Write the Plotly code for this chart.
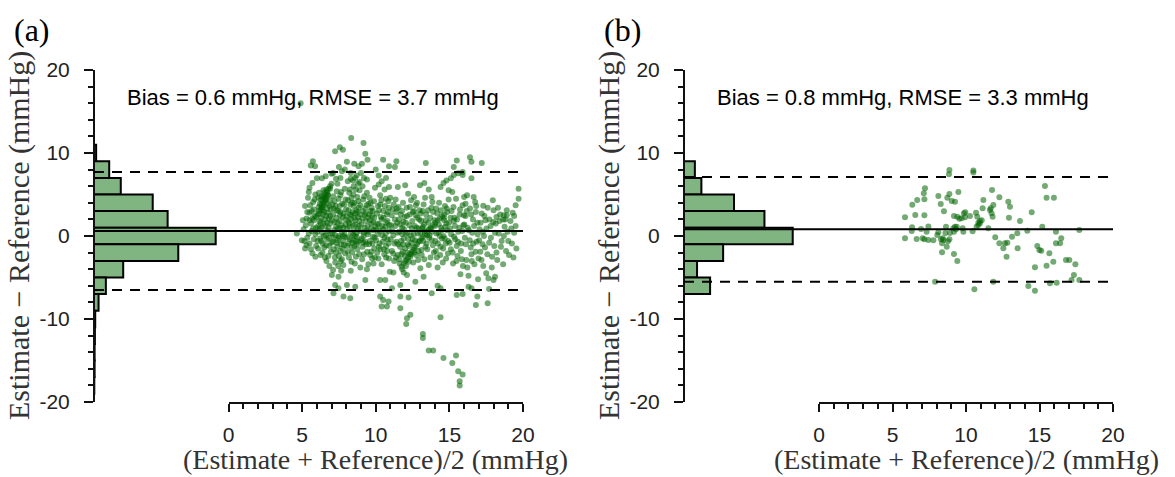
import plotly.graph_objects as go

# ---------------- data ----------------
hist_centers_a = [10, 8, 6, 4, 2, 0, -2, -4, -6, -8, -10, -12, -14, -16, -18]
hist_counts_a = [7, 50, 88, 193, 242, 400, 277, 96, 39, 15, 4, 3, 2, 2, 1]
hist_centers_b = [8, 6, 4, 2, 0, -2, -4, -6]
hist_counts_b = [5, 8, 23, 37, 50, 18, 6, 12]
bin_width = 2

bias_a, upper_a, lower_a = 0.6, 7.7, -6.5
bias_b, upper_b, lower_b = 0.8, 7.1, -5.5
label_a = "Bias = 0.6 mmHg, RMSE = 3.7 mmHg"
label_b = "Bias = 0.8 mmHg, RMSE = 3.3 mmHg"

y_tickvals = [-20, -10, 0, 10, 20]
y_ticktext = ["-20", "-10", "0", "10", "20"]
x_tickvals = [0, 5, 10, 15, 20]
x_ticktext = ["0", "5", "10", "15", "20"]

# panel (a) scatter points (mean, difference)
a_high = [(4.9,16.0),(8.33,11.8),(9.17,11.2),(7.24,10.2),(7.56,10.7),(7.77,10.4),(9.29,9.9),(9.44,9.2),
          (5.73,9.0),(5.59,8.5),(5.88,8.4),(8.04,8.95),(8.54,8.7),(8.83,8.4),(9.06,8.7),(10.5,9.2),(10.9,8.4),
          (11.4,9.0),(11.3,8.3),(13.4,8.8),(15.5,9.1),(16.4,9.5),(16.5,8.95),(17.2,8.8),(15.3,8.3),(15.9,7.7),
          (19.7,5.7),(19.7,4.5),(19.5,3.7),(19.4,2.4),(18.9,2.5),(18.65,2.0),(6.0,6.95),(6.34,6.95),(7.9,8.0),
          (8.3,7.6),(10.0,8.0),(10.2,7.3),(11.5,5.9),(12.0,6.1),(12.2,5.1),(12.6,4.7),(13.0,6.1),(13.8,4.7),
          (14.4,5.9),(14.6,6.4),(14.8,6.7),(15.1,6.95),(15.3,7.35),(15.6,7.55),(15.9,7.35),(14.95,5.5),(16.5,6.95),
          (16.0,4.7),(16.1,3.9),(16.65,4.7),(17.3,3.65),(18.0,3.1),(18.2,2.3),(18.7,2.5),(8.7,7.3),(8.9,6.5),
          (9.1,6.0),(9.4,6.8),(9.2,7.0),(8.6,7.0),(8.8,6.3),(8.45,6.7),(9.0,7.6),(8.3,6.9),(5.5,5.8),(5.7,6.4),
          (6.6,7.2),(7.0,7.5),(7.3,6.9),(7.7,7.8),(7.5,8.3),(7.1,7.6),(7.6,7.0),(10.4,6.6),(10.7,7.0),(10.9,5.9),
          (10.2,6.2),(13.3,6.4),(13.6,5.6)]
a_low = [(7.02,-4.7),(7.47,-4.9),(7.24,-5.9),(7.47,-6.3),(8.04,-5.9),(7.13,-6.9),(7.81,-7.3),(8.27,-7.5),
         (8.61,-6.1),(9.29,-5.3),(10.3,-5.3),(10.65,-5.3),(10.3,-7.3),(10.5,-7.7),(10.76,-8.5),(10.4,-8.5),
         (10.87,-7.9),(11.1,-6.3),(11.67,-7.3),(11.67,-8.7),(12.23,-7.4),(11.67,-5.9),(12.12,-4.7),(12.69,-5.5),
         (13.25,-4.9),(13.03,-3.9),(12.12,-9.9),(12.35,-9.5),(12.07,-10.6),(14.4,-9.8),(13.2,-11.8),(13.2,-12.3),
         (13.6,-13.8),(13.9,-13.8),(14.6,-14.7),(15.45,-14.4),(15.2,-15.3),(15.6,-16.3),(15.9,-16.7),(15.7,-17.5),
         (15.7,-18.0),(14.2,-6.0),(13.8,-6.9),(14.4,-6.3),(15.5,-7.1),(15.9,-7.0),(16.3,-6.1),(16.5,-6.3),
         (16.9,-7.3),(16.8,-8.3),(17.6,-8.1),(17.7,-6.4),(18.0,-5.3),(18.1,-4.9),(4.64,0.3),(4.98,-0.5),(5.2,-1.5)]
a_streaks = [(11.9,-3.3),(12.0,-3.0),(12.1,-2.9),(12.2,-2.6),(12.3,-2.2),(12.35,-2.5),(12.45,-1.9),(12.55,-1.7),
             (12.6,-1.4),(12.7,-1.3),(12.8,-1.0),(12.9,-0.7),(13.0,-0.6),(13.1,-0.3),(13.2,-0.1),(13.35,0.2),
             (13.5,0.5),(13.6,0.8),(13.75,1.0),(13.9,1.3),(14.05,1.6),(14.2,1.9),(14.35,2.1),(14.5,2.4),(14.65,2.6),
             (14.85,2.9),(12.25,-3.1),(12.4,-2.2),(12.15,-2.0),(12.05,-3.6),(11.8,-4.0),(11.9,-4.4),(12.0,-1.5),
             (11.75,-2.2),(11.85,-1.0),
             (6.3,3.8),(6.4,4.2),(6.5,4.6),(6.6,5.0),(6.7,5.3),(6.8,5.7),(6.9,6.0),(7.0,6.3),(6.35,3.5),(6.45,4.8),
             (6.55,4.4),(6.65,5.6),(6.25,3.2),(6.75,4.9),(6.15,3.0),(6.05,2.6),(5.95,2.3),(5.8,1.9)]
a_core = [(5.1,0.8),(5.3,2.1),(5.5,-0.9),(5.6,1.5),(5.8,3.2),(5.4,4.6),(5.7,-2.1),(5.9,0.2),(5.2,3.6),(5.5,2.8),
          (5.75,4.1),(5.95,-1.2),(5.35,-0.2),(5.65,0.6),(5.85,2.4),(5.05,1.9),(5.45,5.3),(5.9,5.0),
          (6.05,-0.6),(6.1,1.2),(6.15,2.7),(6.2,3.9),(6.25,-2.3),(6.3,4.8),(6.35,0.4),(6.4,3.1),(6.45,5.5),(6.5,-1.4),
          (6.55,2.0),(6.6,4.3),(6.65,-3.0),(6.7,1.6),(6.75,5.0),(6.8,-0.2),(6.85,3.6),(6.9,2.4),(6.95,-1.9),(6.2,0.9),
          (6.4,-0.9),(6.6,0.1),(6.8,1.0),(6.3,2.2),(6.5,4.0),(6.7,3.3),(6.9,5.7),(6.15,5.2),(6.55,-2.6),(6.85,-3.6),
          (6.45,1.5),(6.65,4.6),(6.35,3.4),(6.75,2.8),
          (7.05,0.3),(7.1,2.6),(7.15,-1.6),(7.2,4.2),(7.25,-3.2),(7.3,1.1),(7.35,5.4),(7.4,-0.5),(7.45,3.0),(7.5,-2.4),
          (7.55,1.8),(7.6,4.9),(7.65,-1.0),(7.7,0.5),(7.75,2.3),(7.8,-3.5),(7.85,3.8),(7.9,-0.1),(7.95,1.4),(7.1,-4.1),
          (7.3,-2.0),(7.5,0.0),(7.7,-2.8),(7.9,5.7),(7.2,1.7),(7.4,6.3),(7.6,2.9),(7.8,1.0),(7.35,-0.8),(7.55,3.6),
          (7.75,-1.5),(7.95,4.4),(7.15,3.3),(7.65,-4.2),
          (8.05,0.9),(8.1,-1.9),(8.15,3.1),(8.2,5.2),(8.25,-0.4),(8.3,2.0),(8.35,-3.1),(8.4,4.0),(8.45,1.3),(8.5,6.0),
          (8.55,-1.2),(8.6,2.7),(8.65,-2.5),(8.7,0.4),(8.75,4.7),(8.8,-0.7),(8.85,3.4),(8.9,1.8),(8.95,-3.8),(8.1,6.6),
          (8.3,-4.2),(8.5,3.6),(8.7,-0.1),(8.9,5.5),(8.2,1.5),(8.4,-2.0),(8.6,0.0),(8.8,2.3),(8.15,-0.9),(8.35,4.6),
          (8.55,2.2),(8.75,-1.6),(8.95,0.6),(8.45,-0.5),(8.65,5.6),(8.25,2.6),
          (9.05,-0.3),(9.1,2.1),(9.15,4.4),(9.2,-2.2),(9.25,1.0),(9.3,3.3),(9.35,-1.0),(9.4,5.2),(9.45,0.2),(9.5,-3.4),
          (9.55,2.6),(9.6,-0.6),(9.65,4.0),(9.7,1.5),(9.75,-2.7),(9.8,3.0),(9.85,0.7),(9.9,-1.5),(9.95,5.8),(9.2,0.4),
          (9.4,-4.0),(9.6,1.9),(9.8,-0.1),(9.3,2.7),(9.5,3.9),(9.7,-1.9),(9.9,2.2),(9.1,-1.3),(9.45,1.2),
          (10.05,0.8),(10.1,-2.0),(10.15,3.6),(10.2,1.4),(10.25,-0.9),(10.3,4.9),(10.35,2.3),(10.4,-3.4),(10.45,0.1),
          (10.5,3.0),(10.55,-1.6),(10.6,5.6),(10.65,1.1),(10.7,-2.6),(10.75,2.6),(10.8,-0.4),(10.85,4.2),(10.9,0.6),
          (10.95,-4.3),(10.2,-1.3),(10.4,2.0),(10.6,-0.2),(10.8,1.8),(10.3,3.8),(10.7,-1.2),(10.9,3.4),
          (11.05,1.3),(11.1,-1.8),(11.15,3.2),(11.2,0.1),(11.25,-3.0),(11.3,2.0),(11.35,4.4),(11.4,-0.7),(11.45,1.6),
          (11.5,-2.3),(11.55,3.5),(11.6,0.5),(11.65,-1.3),(11.7,2.6),(11.75,-3.7),(11.8,1.0),(11.85,4.0),(11.9,-0.3),
          (11.95,2.3),(11.2,-4.4),(11.4,2.9),(11.6,-2.8),(11.8,0.2),
          (12.05,1.6),(12.1,3.4),(12.15,0.4),(12.25,-1.2),(12.3,2.6),(12.4,4.3),(12.45,0.9),(12.5,-0.4),(12.6,3.0),
          (12.65,1.2),(12.75,-2.3),(12.8,4.0),(12.85,0.3),(12.95,2.0),(12.2,-0.3),(12.55,-3.2),(12.7,2.5),(12.9,-1.8),
          (13.05,2.7),(13.1,-1.7),(13.15,0.9),(13.25,3.8),(13.3,-2.8),(13.4,1.9),(13.45,-0.9),(13.55,3.1),(13.6,-3.5),
          (13.7,2.2),(13.8,-0.5),(13.85,4.1),(13.95,-2.0),(13.2,1.1),(13.5,-1.6),(13.65,0.1),(13.9,2.9),(13.35,4.6),
          (14.05,-0.6),(14.1,3.3),(14.15,-2.6),(14.25,0.4),(14.3,4.0),(14.4,-1.3),(14.45,1.0),(14.55,-3.2),(14.6,0.0),
          (14.7,3.6),(14.75,-0.9),(14.8,1.5),(14.9,-2.1),(14.95,4.4),(14.2,-3.8),(14.5,-0.3),(14.65,1.9),(14.85,0.7),
          (15.05,0.9),(15.1,-1.6),(15.15,3.0),(15.25,-3.3),(15.3,1.8),(15.4,-0.4),(15.45,4.5),(15.55,-2.4),(15.6,0.5),
          (15.7,2.6),(15.75,-4.6),(15.8,-0.9),(15.9,3.7),(15.95,1.3),(15.2,5.3),(15.5,-1.2),(15.85,-2.8),(15.35,2.2),
          (16.05,-0.2),(16.1,2.4),(16.15,-2.9),(16.25,1.0),(16.3,-4.8),(16.4,3.3),(16.45,-1.4),(16.55,0.4),(16.6,2.0),
          (16.7,-3.4),(16.75,4.1),(16.85,-0.7),(16.9,1.6),(16.95,-5.2),(16.2,4.9),(16.5,-2.2),(16.8,2.9),
          (17.05,0.8),(17.1,-1.9),(17.2,2.7),(17.3,-3.6),(17.35,0.0),(17.45,1.9),(17.5,-4.5),(17.6,3.4),(17.7,-0.8),
          (17.8,1.2),(17.9,-2.5),(17.95,4.3),(17.25,-1.0),(17.65,-5.1),
          (18.05,-1.2),(18.15,1.5),(18.25,-2.9),(18.35,0.3),(18.45,2.6),(18.55,-0.6),(18.65,-3.4),(18.75,1.1),
          (18.85,-1.8),(18.95,0.5),(19.05,-2.3),(19.15,1.8),(19.25,-0.9),(19.4,0.4),(19.55,-1.5),(18.3,3.4),
          (18.9,3.1),(19.3,2.8)]
a_core2 = [(5.15,-0.6),(5.25,1.3),(5.35,2.9),(5.45,0.3),(5.55,3.7),(5.6,-1.6),(5.7,2.1),(5.8,-0.4),(5.85,4.4),
           (5.95,1.0),(5.3,-1.1),(5.5,1.9),(5.65,3.0),(5.75,0.9),(5.9,-2.5),
           (6.02,0.5),(6.08,-1.5),(6.12,3.5),(6.18,1.8),(6.22,-0.3),(6.28,4.4),(6.32,1.0),(6.38,-2.0),(6.42,2.6),
           (6.48,0.0),(6.52,5.2),(6.58,1.2),(6.62,-1.1),(6.68,3.9),(6.72,0.6),(6.78,-2.4),(6.82,2.1),(6.88,4.3),
           (6.92,0.3),(6.98,-0.8),(6.1,4.6),(6.3,-0.6),(6.5,2.9),(6.7,-0.4),(6.9,1.5),(6.25,1.6),(6.45,3.7),
           (6.65,2.4),(6.85,-1.2),(6.95,3.2),
           (7.02,1.9),(7.08,-0.7),(7.12,4.8),(7.18,0.7),(7.22,-2.6),(7.28,3.6),(7.32,2.2),(7.38,-1.3),(7.42,0.9),
           (7.48,4.5),(7.52,-0.2),(7.58,2.5),(7.62,-3.0),(7.68,1.3),(7.72,3.9),(7.78,-0.6),(7.82,2.7),(7.88,0.2),
           (7.92,-2.1),(7.98,3.2),(7.05,3.8),(7.25,0.1),(7.45,-3.6),(7.65,5.3),(7.85,-1.1),(7.15,-0.2),(7.35,3.1),
           (7.55,1.0),(7.75,0.0),(7.95,2.0),(7.4,1.6),(7.6,-1.8),
           (8.02,2.4),(8.08,-0.2),(8.12,4.3),(8.18,-2.6),(8.22,1.1),(8.28,3.8),(8.32,0.3),(8.38,-1.4),(8.42,2.9),
           (8.48,5.0),(8.52,0.7),(8.58,-3.3),(8.62,1.9),(8.68,3.1),(8.72,-1.0),(8.78,0.9),(8.82,4.2),(8.88,-2.2),
           (8.92,2.6),(8.98,-0.5),(8.05,-1.2),(8.25,5.6),(8.45,0.1),(8.65,-0.6),(8.85,1.2),(8.15,1.8),(8.35,2.5),
           (8.55,4.0),(8.75,2.9),(8.95,3.7),(8.4,-0.8),(8.6,1.4),
           (9.02,1.4),(9.08,-2.8),(9.12,3.0),(9.18,0.0),(9.22,4.8),(9.28,-0.7),(9.32,1.8),(9.38,3.7),(9.42,-1.9),
           (9.48,2.2),(9.52,0.5),(9.58,4.6),(9.62,-2.3),(9.68,0.9),(9.72,3.4),(9.78,-0.9),(9.82,1.7),(9.88,4.2),
           (9.92,-0.2),(9.98,1.1),(9.15,-0.8),(9.35,0.6),(9.55,-1.0),(9.75,2.4),(9.95,-2.6),(9.25,2.5),(9.65,3.0),
           (9.85,-3.3),
           (10.02,-0.5),(10.08,2.7),(10.12,0.2),(10.18,-2.7),(10.22,3.1),(10.28,0.6),(10.32,-1.6),(10.38,4.3),
           (10.42,1.2),(10.48,-0.7),(10.52,2.2),(10.58,-2.2),(10.62,3.6),(10.68,0.3),(10.72,1.6),(10.78,-1.8),
           (10.82,2.9),(10.88,-0.9),(10.92,1.3),(10.98,4.6),(10.1,1.5),(10.5,0.8),(10.7,4.5),(10.9,-2.7),
           (11.02,-0.4),(11.08,2.5),(11.12,0.6),(11.18,-2.1),(11.22,3.8),(11.28,-0.9),(11.32,1.2),(11.38,-2.6),
           (11.42,3.3),(11.48,0.4),(11.52,-1.0),(11.58,2.0),(11.62,-3.3),(11.68,1.4),(11.72,-0.6),(11.78,3.0),
           (11.82,-1.9),(11.88,1.7),(11.92,0.8),(11.98,-2.4),
           (12.02,0.3),(12.12,2.4),(12.18,-1.0),(12.28,1.3),(12.32,3.5),(12.42,-0.8),(12.48,1.8),(12.52,2.9),
           (12.58,0.2),(12.68,-0.5),(12.72,3.7),(12.78,1.0),(12.88,-2.9),(12.92,0.9),(12.98,3.1),(12.38,0.1),
           (12.62,-2.0),(12.82,2.2),
           (13.02,0.4),(13.08,1.8),(13.12,-2.3),(13.18,3.0),(13.22,-0.6),(13.28,1.4),(13.38,-1.3),(13.42,2.6),
           (13.48,0.1),(13.58,1.6),(13.62,-0.2),(13.72,-2.6),(13.78,3.4),(13.82,0.5),(13.88,-1.1),(13.98,1.9),
           (13.3,0.6),(13.7,0.9),
           (14.02,1.2),(14.08,-1.8),(14.12,0.3),(14.18,2.7),(14.22,-0.9),(14.28,1.4),(14.38,-2.3),(14.42,3.1),
           (14.48,0.7),(14.58,-1.5),(14.62,2.2),(14.68,-0.3),(14.72,1.1),(14.78,-2.7),(14.82,3.3),(14.92,-0.6),
           (14.98,1.6),(14.35,0.0),
           (15.02,-0.8),(15.08,2.2),(15.12,0.2),(15.22,-2.0),(15.28,3.5),(15.32,-0.1),(15.38,1.2),(15.48,-3.0),
           (15.52,2.0),(15.58,-0.7),(15.68,1.0),(15.72,3.2),(15.78,-1.8),(15.88,0.6),(15.92,-3.6),(15.98,2.5),
           (16.02,1.4),(16.12,-1.0),(16.18,3.0),(16.22,-3.8),(16.32,0.7),(16.38,-0.5),(16.48,2.6),(16.52,-3.0),
           (16.62,-0.9),(16.68,1.2),(16.78,-1.9),(16.82,3.6),(16.92,0.2),(16.98,-2.7),
           (17.02,-0.5),(17.12,1.6),(17.18,-2.9),(17.28,0.5),(17.38,2.4),(17.42,-1.4),(17.52,0.9),(17.58,-2.2),
           (17.72,2.0),(17.82,-0.2),(17.88,-3.8),(17.98,1.7),
           (18.1,0.4),(18.2,-2.0),(18.4,1.8),(18.5,-1.3),(18.7,0.0),(18.8,2.0),(19.0,-0.6),(19.2,0.9),(19.35,-2.6),
           (19.5,1.2)]

# panel (b) scatter points
b_points = [(8.87,7.95),(8.84,7.43),(10.5,7.9),(10.5,7.65),(7.21,5.74),(7.13,5.14),(6.68,4.34),(6.35,3.77),
            (7.17,4.42),(8.12,4.82),(8.73,4.62),(8.87,5.06),(9.48,5.3),(9.03,4.22),(9.25,4.14),(8.28,3.86),
            (8.5,2.97),(5.85,2.25),(6.55,2.53),(7.17,2.49),(6.33,1.04),(6.31,0.6),(6.94,0.85),(7.44,1.13),
            (5.85,-0.28),(6.64,-0.36),(7.05,-0.28),(7.17,-0.4),(7.44,-0.48),(7.78,-0.52),(7.32,0.52),(8.05,0.12),
            (8.3,-0.4),(8.42,-0.28),(8.12,0.44),(8.6,0.36),(8.77,-0.64),(8.87,-0.4),(8.91,0.36),(9.18,0.52),
            (9.14,0.92),(9.25,1.12),(9.37,1.12),(9.32,0.8),(8.37,-1.97),(9.18,-2.17),(9.41,-3.01),(9.18,2.41),
            (9.41,2.33),(9.55,2.09),(9.86,2.73),(9.95,2.85),(9.7,2.13),(10.27,2.41),(10.68,2.81),(10.77,2.33),
            (10.95,1.53),(10.84,1.33),(10.72,1.12),(10.45,0.56),(11.52,0.92),(11.18,4.34),(11.77,5.54),(11.68,3.33),
            (11.86,3.73),(11.74,2.73),(11.81,2.33),(12.27,4.66),(12.88,4.14),(12.99,3.53),(12.92,2.21),(13.67,1.81),
            (14.47,2.85),(11.99,-0.16),(12.27,-0.88),(12.65,-0.88),(12.81,-0.8),(12.54,-1.49),(12.76,-2.49),
            (13.13,-0.08),(13.49,0.32),(13.51,-1.49),(14.17,0.64),(15.19,1.12),(15.37,6.02),(15.48,4.62),(15.98,4.62),
            (16.12,0.52),(14.85,-1.2),(14.99,-1.69),(15.12,-1.77),(15.67,-2.09),(16.12,-0.88),(16.4,-0.88),
            (16.48,-0.28),(17.71,0.72),(15.94,-3.09),(15.48,-3.57),(14.69,-3.77),(16.8,-2.89),(17.03,-2.89),
            (17.44,-3.41),(17.34,-4.7),(17.71,-5.3),(17.18,-5.3),(16.17,-5.62),(15.71,-5.7),(14.69,-6.59),
            (14.24,-6.02),(10.57,-6.42),(11.86,-5.5),(7.9,-5.5),(8.37,-0.88),(8.69,-1.29),(8.46,-0.48),(9.82,0.52),
            (9.77,0.92),(9.93,2.25),(11.13,3.33),(11.63,3.13),(8.64,1.12),(10.95,1.81),(10.84,1.61),(11.07,1.89)]

# ---------------- layout helpers ----------------
W, H = 1175, 477
def px(x):
    return x / W
def py(y):
    return 1 - y / H

Y_TOP, Y_BOT = 70, 402
panels = [
    dict(yaxis_px=94, x0_px=228.5, x1_px=523, hist_max=1410, label="(a)", label_px=12,
         centers=hist_centers_a, counts=hist_counts_a, bias=bias_a, up=upper_a, lo=lower_a, text=label_a,
         text_px=313, pts=a_core + a_core2 + a_streaks + a_high + a_low),
    dict(yaxis_px=684, x0_px=819, x1_px=1113, hist_max=197.3, label="(b)", label_px=602,
         centers=hist_centers_b, counts=hist_counts_b, bias=bias_b, up=upper_b, lo=lower_b, text=label_b,
         text_px=903, pts=b_points),
]

HIST_FILL = "rgb(128,180,128)"
DOT = "rgba(0,100,0,0.55)"
AX = "#111111"
SANS = "Liberation Sans, Arial, sans-serif"
SERIF = "Liberation Serif, Times New Roman, serif"

fig = go.Figure()
layout = dict(template="none", width=W, height=H, margin=dict(l=0, r=0, t=0, b=0, autoexpand=False),
              paper_bgcolor="white", plot_bgcolor="white", showlegend=False,
              shapes=[], annotations=[])

for i, p in enumerate(panels):
    hx = "x" if i == 0 else "x3"
    sx = "x2" if i == 0 else "x4"
    yy = "y" if i == 0 else "y2"
    hx_key = "xaxis" if i == 0 else "xaxis3"
    sx_key = "xaxis2" if i == 0 else "xaxis4"
    yy_key = "yaxis" if i == 0 else "yaxis2"

    fig.add_trace(go.Bar(y=p["centers"], x=p["counts"], orientation="h", width=bin_width,
                         marker=dict(color=HIST_FILL, line=dict(color="black", width=2)),
                         xaxis=hx, yaxis=yy, hoverinfo="skip"))
    xs = [q[0] for q in p["pts"]]
    ys = [q[1] for q in p["pts"]]
    fig.add_trace(go.Scatter(x=xs, y=ys, mode="markers",
                             marker=dict(size=6, color=DOT, line=dict(width=0)),
                             xaxis=sx, yaxis=yy, hoverinfo="skip"))

    layout[hx_key] = dict(domain=[px(p["yaxis_px"]), px(p["x1_px"])], range=[0, p["hist_max"]],
                          visible=False, anchor=yy, fixedrange=True, automargin=False)
    layout[sx_key] = dict(domain=[px(p["x0_px"]), px(p["x1_px"])], range=[0, 20], anchor=yy,
                          showline=True, linecolor=AX, linewidth=2, showgrid=False, zeroline=False,
                          ticks="outside", ticklen=8, tickwidth=1.5, tickcolor=AX, ticklabelstandoff=5,
                          tickmode="array", tickvals=x_tickvals, ticktext=x_ticktext,
                          tickfont=dict(family=SANS, size=21, color="#222"),
                          minor=dict(ticks="outside", ticklen=5, tickwidth=1.5, tickcolor=AX, dtick=1, tick0=0),
                          fixedrange=True, automargin=False)
    layout[yy_key] = dict(domain=[py(Y_BOT), py(Y_TOP)], range=[-20, 20], anchor="free",
                          position=px(p["yaxis_px"]),
                          showline=True, linecolor=AX, linewidth=2, showgrid=False, zeroline=False,
                          ticks="outside", ticklen=9, tickwidth=1.5, tickcolor=AX, ticklabelstandoff=10,
                          tickmode="array", tickvals=y_tickvals, ticktext=y_ticktext,
                          tickfont=dict(family=SANS, size=21, color="#222"),
                          minor=dict(ticks="outside", ticklen=5, tickwidth=1.5, tickcolor=AX, dtick=2, tick0=0),
                          fixedrange=True, automargin=False)

    xdom = hx + " domain"
    layout["shapes"].append(dict(type="line", xref=xdom, yref=yy, x0=0, x1=1, y0=p["bias"], y1=p["bias"],
                                 line=dict(color="black", width=2), layer="above"))
    for v in (p["up"], p["lo"]):
        layout["shapes"].append(dict(type="line", xref=xdom, yref=yy, x0=0, x1=1, y0=v, y1=v,
                                     line=dict(color="black", width=2, dash="10px,8px"), layer="above"))

    layout["annotations"] += [
        dict(text=p["label"], x=px(p["label_px"]), y=py(30), xref="paper", yref="paper",
             xanchor="left", yanchor="middle", showarrow=False,
             font=dict(family=SERIF, size=32, color="black")),
        dict(text=p["text"], x=px(p["text_px"]), y=py(97), xref="paper", yref="paper",
             xanchor="center", yanchor="middle", showarrow=False,
             font=dict(family=SANS, size=22, color="black")),
        dict(text="Estimate \u2212 Reference (mmHg)", x=px(p["yaxis_px"] - 75), y=py(236),
             xref="paper", yref="paper", xanchor="center", yanchor="middle", textangle=-90,
             showarrow=False, font=dict(family=SERIF, size=30, color="#333")),
        dict(text="(Estimate + Reference)/2 (mmHg)", x=px((p["x0_px"] + p["x1_px"]) / 2), y=py(459.5),
             xref="paper", yref="paper", xanchor="center", yanchor="middle",
             showarrow=False, font=dict(family=SERIF, size=28, color="#333")),
    ]

fig.update_layout(**layout)
fig.write_html("out.html")
